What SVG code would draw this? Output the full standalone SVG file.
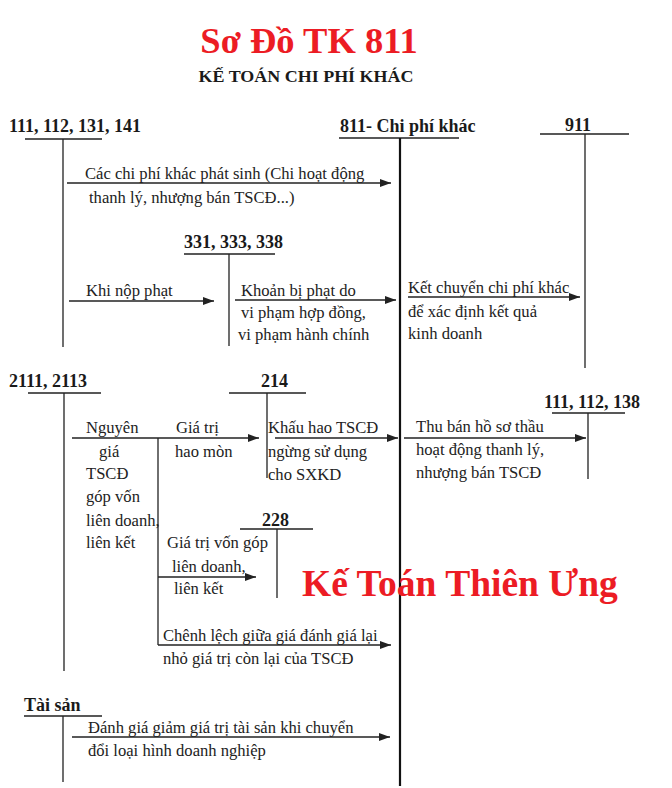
<svg xmlns="http://www.w3.org/2000/svg" width="672" height="788" viewBox="0 0 672 788">
<style>
.t{font-family:"Liberation Serif","Times New Roman",serif;font-size:16.6px;fill:#222}
.b{font-family:"Liberation Serif","Times New Roman",serif;font-size:18px;font-weight:bold;fill:#1a1a1a}
.red{font-family:"Liberation Serif","Times New Roman",serif;font-weight:bold;fill:#ec1c24}
.ln{stroke:#222;stroke-width:1.3;fill:none}
.ar{stroke:#222;stroke-width:1.3;fill:none;marker-end:url(#ah)}
</style>
<defs>
<marker id="ah" markerUnits="userSpaceOnUse" markerWidth="12" markerHeight="8" refX="11" refY="4" orient="auto">
<path d="M0,0 L11,4 L0,8 z" fill="#222"/>
</marker>
</defs>
<rect width="672" height="788" fill="#fff"/>
<g id="title">
<text class="red" x="309" y="53" style="font-size:36.5px" text-anchor="middle">Sơ Đồ TK 811</text>
<text class="b" x="306" y="82" style="font-size:17px" text-anchor="middle" textLength="215" lengthAdjust="spacingAndGlyphs">KẾ TOÁN CHI PHÍ KHÁC</text>
</g>
<g id="acc-111-112-131-141">
<text class="b" x="9" y="132">111, 112, 131, 141</text>
<path class="ln" d="M25,139 H102 M63,139 V347"/>
</g>
<g id="acc-811">
<text class="b" x="340" y="132">811- Chi phí khác</text>
<path class="ln" d="M339,138 H459"/>
<path d="M400,138 V786" stroke="#111" stroke-width="2.2" fill="none"/>
</g>
<g id="acc-911">
<text class="b" x="565" y="131">911</text>
<path class="ln" d="M540,134 H629 M585,134 V368"/>
</g>
<g id="acc-331-333-338">
<text class="b" x="184" y="248">331, 333, 338</text>
<path class="ln" d="M184,254 H275 M229,254 V346"/>
</g>
<g id="acc-2111-2113">
<text class="b" x="9" y="387">2111, 2113</text>
<path class="ln" d="M28,393 H101 M64,393 V671"/>
</g>
<g id="acc-214">
<text class="b" x="261" y="387">214</text>
<path class="ln" d="M229,393 H306 M267,393 V478"/>
</g>
<g id="acc-111-112-138">
<text class="b" x="544" y="408">111, 112, 138</text>
<path class="ln" d="M552,413 H625 M588,413 V479"/>
</g>
<g id="acc-228">
<text class="b" x="262" y="526">228</text>
<path class="ln" d="M240,529 H313 M277,529 V598"/>
</g>
<g id="acc-tai-san">
<text class="b" x="24" y="711">Tài sản</text>
<path class="ln" d="M24,716 H102 M63,716 V782"/>
</g>
<g id="watermark">
<text class="red" x="302" y="596" style="font-size:37.5px">Kế Toán Thiên Ưng</text>
</g>
<g id="connectors">
<path class="ar" d="M67,183 H391"/>
<text class="t" x="85" y="179">Các chi phí khác phát sinh (Chi hoạt động</text>
<text class="t" x="89" y="203">thanh lý, nhượng bán TSCĐ...)</text>

<path class="ar" d="M69,301 H214"/>
<text class="t" x="86" y="296">Khi nộp phạt</text>

<path class="ar" d="M235,300 H396"/>
<text class="t" x="241" y="296">Khoản bị phạt do</text>
<text class="t" x="241" y="318">vi phạm hợp đồng,</text>
<text class="t" x="238" y="340">vi phạm hành chính</text>

<path class="ar" d="M408,297 H580"/>
<text class="t" x="408" y="293">Kết chuyển chi phí khác</text>
<text class="t" x="408" y="317">để xác định kết quả</text>
<text class="t" x="408" y="339">kinh doanh</text>

<path class="ar" d="M72,438 H259"/>
<text class="t" x="86" y="433">Nguyên</text>
<text class="t" x="99" y="457">giá</text>
<text class="t" x="86" y="479">TSCĐ</text>
<text class="t" x="86" y="502">góp vốn</text>
<text class="t" x="86" y="526">liên doanh,</text>
<text class="t" x="86" y="548">liên kết</text>
<text class="t" x="176" y="433">Giá trị</text>
<text class="t" x="175" y="457">hao mòn</text>

<path class="ar" d="M275,438 H398"/>
<text class="t" x="268" y="433">Khấu hao TSCĐ</text>
<text class="t" x="268" y="457">ngừng sử dụng</text>
<text class="t" x="268" y="480">cho SXKD</text>

<path class="ar" d="M404,438 H586"/>
<text class="t" x="416" y="432">Thu bán hồ sơ thầu</text>
<text class="t" x="416" y="455">hoạt động thanh lý,</text>
<text class="t" x="416" y="478">nhượng bán TSCĐ</text>

<path class="ln" d="M158,438 V645"/>
<path class="ar" d="M158,577 H256"/>
<text class="t" x="167" y="548">Giá trị vốn góp</text>
<text class="t" x="172" y="572">liên doanh,</text>
<text class="t" x="174" y="594">liên kết</text>

<path class="ar" d="M158,645 H391"/>
<text class="t" x="163" y="641">Chênh lệch giữa giá đánh giá lại</text>
<text class="t" x="163" y="664">nhỏ giá trị còn lại của TSCĐ</text>

<path class="ar" d="M72,737 H390"/>
<text class="t" x="88" y="733">Đánh giá giảm giá trị tài sản khi chuyển</text>
<text class="t" x="88" y="756">đổi loại hình doanh nghiệp</text>
</g>
</svg>
